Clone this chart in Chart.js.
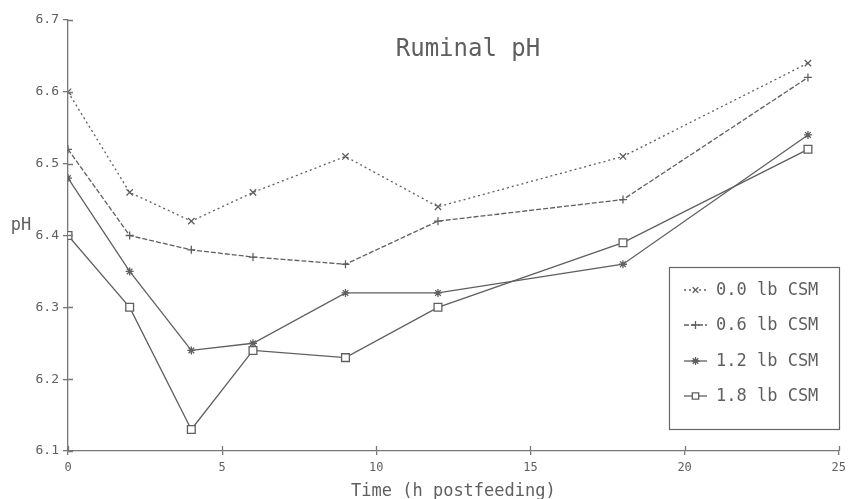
<!DOCTYPE html>
<html>
<head>
<meta charset="utf-8">
<script src="https://cdn.jsdelivr.net/npm/chart.js@4.4.0/dist/chart.umd.min.js"></script>
<style>
  html, body { margin: 0; padding: 0; background: #fff; }
  #wrap { width: 852px; height: 499px; }
</style>
</head>
<body>
<div id="wrap"><canvas id="phChart" width="852" height="499"></canvas></div>
<script>
// sampling times, h after feeding
let hours = [0, 2, 4, 6, 9, 12, 18, 24];

// ruminal pH per CSM level
let csm00 = [6.60, 6.46, 6.42, 6.46, 6.51, 6.44, 6.51, 6.64];
let csm06 = [6.52, 6.40, 6.38, 6.37, 6.36, 6.42, 6.45, 6.62];
let csm12 = [6.48, 6.35, 6.24, 6.25, 6.32, 6.32, 6.36, 6.54];
let csm18 = [6.40, 6.30, 6.13, 6.24, 6.23, 6.30, 6.39, 6.52];

let seriesLabels = ['0.0 lb CSM', '0.6 lb CSM', '1.2 lb CSM', '1.8 lb CSM'];
let xTicks = [0, 5, 10, 15, 20, 25];
let yTicks = [6.1, 6.2, 6.3, 6.4, 6.5, 6.6, 6.7];

let mono = '"DejaVu Sans Mono", "Liberation Mono", monospace';
let ink = '#5f5f5f';

function toPoints(values) {
  return hours.map((h, i) => ({ x: h, y: values[i] }));
}

function makeSet(label, values, style, dash, radius) {
  return {
    label: label,
    data: toPoints(values),
    borderColor: ink,
    borderWidth: 1.3,
    borderDash: dash,
    pointStyle: style,
    pointRadius: radius,
    pointBorderColor: ink,
    pointBorderWidth: 1.3,
    pointBackgroundColor: '#fff',
    tension: 0,
    fill: false
  };
}

let dataSets = [
  makeSet(seriesLabels[0], csm00, 'crossRot', [2, 3], 4.5),
  makeSet(seriesLabels[1], csm06, 'cross', [5, 2], 4),
  makeSet(seriesLabels[2], csm12, 'star', [], 4),
  makeSet(seriesLabels[3], csm18, 'rect', [], 5.5)
];

// title, y label, inner tick marks and the boxed legend
let plotDecor = {
  id: 'plotDecor',
  afterDraw(chart) {
    let ctx = chart.ctx;
    let area = chart.chartArea;
    let xs = chart.scales.x;
    let ys = chart.scales.y;
    ctx.save();

    ctx.strokeStyle = '#777';
    ctx.lineWidth = 1.3;
    ctx.beginPath();
    yTicks.forEach(v => {
      let py = Math.round(ys.getPixelForValue(v)) + 0.5;
      ctx.moveTo(area.left, py);
      ctx.lineTo(area.left + 5, py);
    });
    xTicks.forEach(v => {
      let px = Math.round(xs.getPixelForValue(v)) + 0.5;
      ctx.moveTo(px, area.bottom);
      ctx.lineTo(px, area.bottom - 5);
    });
    ctx.stroke();

    ctx.fillStyle = ink;
    ctx.textBaseline = 'middle';
    ctx.textAlign = 'center';
    ctx.font = '24px ' + mono;
    ctx.fillText('Ruminal pH', 468, 50);
    ctx.font = '17px ' + mono;
    ctx.fillText('pH', 21, 226);

    // legend
    ctx.strokeStyle = '#666';
    ctx.lineWidth = 1.2;
    ctx.setLineDash([]);
    ctx.strokeRect(669.5, 267.5, 170, 162);
    let rowY = [290, 325, 361, 396];
    ctx.textAlign = 'left';
    dataSets.forEach((ds, i) => {
      let y = rowY[i];
      ctx.strokeStyle = ink;
      ctx.lineWidth = 1.3;
      ctx.setLineDash(ds.borderDash);
      ctx.beginPath();
      ctx.moveTo(684, y);
      ctx.lineTo(707, y);
      ctx.stroke();
      ctx.setLineDash([]);
      ctx.fillStyle = '#fff';
      Chart.helpers.drawPoint(ctx, {
        pointStyle: ds.pointStyle,
        radius: ds.pointStyle === 'rect' ? 4.5 : 4,
        rotation: 0,
        borderWidth: 1.3
      }, 695.5, y);
      ctx.fillStyle = ink;
      ctx.font = '17px ' + mono;
      ctx.fillText(ds.label, 716, y + 1);
    });
    ctx.restore();
  }
};

let phChart = new Chart(document.getElementById('phChart'), {
  type: 'line',
  data: { datasets: dataSets },
  plugins: [plotDecor],
  options: {
    responsive: false,
    animation: false,
    layout: { padding: { top: 20, right: 9, left: 0, bottom: 0 } },
    plugins: {
      legend: { display: false },
      tooltip: { enabled: false },
      title: { display: false }
    },
    scales: {
      x: {
        type: 'linear',
        min: 0,
        max: 25,
        afterFit: s => { s.height = 48; },
        afterBuildTicks: s => { s.ticks = xTicks.map(v => ({ value: v })); },
        border: { display: true, color: '#777', width: 1.3 },
        grid: { drawOnChartArea: false, tickLength: 4, color: '#777', lineWidth: 1.3 },
        ticks: {
          color: ink,
          font: { family: mono, size: 12 },
          padding: 6,
          maxRotation: 0
        },
        title: {
          display: true,
          text: 'Time (h postfeeding)',
          color: ink,
          font: { family: mono, size: 17 },
          padding: { top: 0, bottom: -3 }
        }
      },
      y: {
        min: 6.1,
        max: 6.7,
        afterFit: s => { s.width = 68; },
        afterBuildTicks: s => { s.ticks = yTicks.map(v => ({ value: v })); },
        border: { display: true, color: '#777', width: 1.3 },
        grid: { drawOnChartArea: false, tickLength: 5, color: '#777', lineWidth: 1.3 },
        ticks: {
          color: ink,
          font: { family: mono, size: 13 },
          padding: 4,
          callback: v => v.toFixed(1)
        }
      }
    }
  }
});
</script>
</body>
</html>
